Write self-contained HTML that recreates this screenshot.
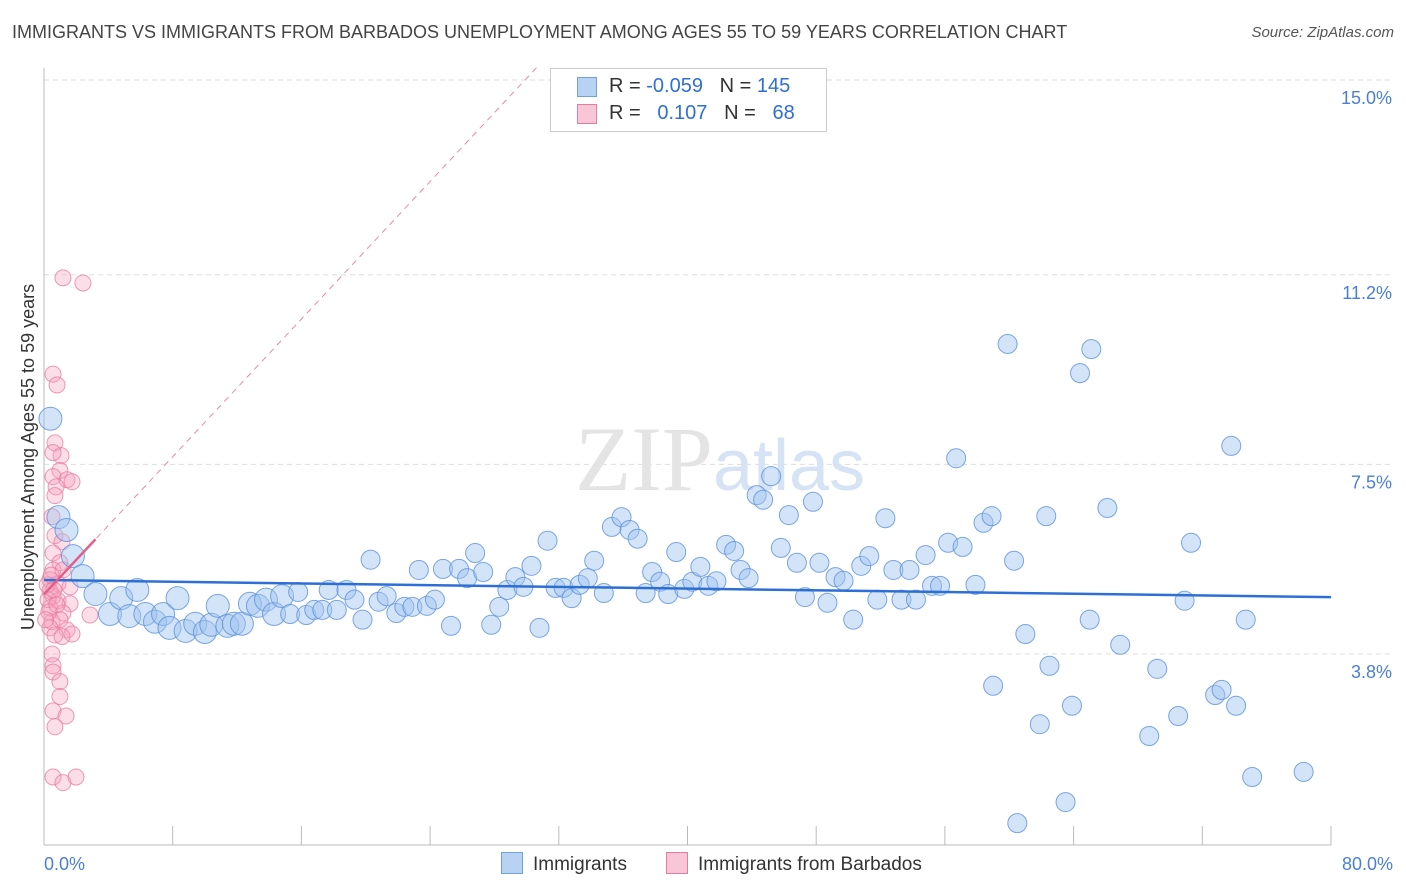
<!DOCTYPE html>
<html><head><meta charset="utf-8">
<style>
body{margin:0;background:#fff;font-family:"Liberation Sans",sans-serif;}
#wrap{position:relative;width:1406px;height:892px;overflow:hidden;}
.t{position:absolute;white-space:nowrap;}
</style></head>
<body>
<div id="wrap">
<div class="t" style="left:12px;top:22px;font-size:18px;color:#444;">IMMIGRANTS VS IMMIGRANTS FROM BARBADOS UNEMPLOYMENT AMONG AGES 55 TO 59 YEARS CORRELATION CHART</div>
<div class="t" style="right:12px;top:24px;font-size:15px;color:#555;font-style:italic;">Source: ZipAtlas.com</div>
<svg id="svg" width="1406" height="892" style="position:absolute;left:0;top:0"></svg>
</div>
<script>
const xTicksPct=[0,80];
const yTicks=[3.8,7.5,11.2,15.0];
const blueX=[0.4,0.9,1.4,1.8,2.4,3.2,4.1,4.8,5.3,5.8,6.3,6.9,7.4,7.8,8.3,8.8,9.4,10.0,10.4,10.8,11.4,11.8,12.3,12.8,13.3,13.8,14.3,14.8,15.3,15.8,16.3,16.8,17.3,17.7,18.2,18.8,19.3,19.8,20.3,20.8,21.3,21.9,22.4,22.9,23.3,23.8,24.3,24.8,25.3,25.8,26.3,26.8,27.3,27.8,28.3,28.8,29.3,29.8,30.3,30.8,31.3,31.8,32.3,32.8,33.3,33.8,34.2,34.8,35.3,35.9,36.4,36.9,37.4,37.8,38.3,38.8,39.3,39.8,40.3,40.8,41.3,41.8,42.4,42.9,43.3,43.8,44.3,44.7,45.2,45.8,46.3,46.8,47.3,47.8,48.2,48.7,49.2,49.7,50.3,50.8,51.3,51.8,52.3,52.8,53.3,53.8,54.2,54.8,55.2,55.7,56.2,56.7,57.1,57.9,58.4,58.9,59.0,59.9,60.3,61.0,61.9,62.3,62.5,63.5,63.9,64.4,65.0,65.1,66.1,66.9,68.7,69.2,70.5,70.9,71.3,72.8,73.2,73.8,74.1,74.7,75.1,78.3,60.5];
const blueY=[8.39,6.47,6.22,5.71,5.32,4.97,4.58,4.89,4.54,5.05,4.58,4.43,4.58,4.31,4.89,4.25,4.39,4.23,4.37,4.74,4.35,4.39,4.39,4.78,4.74,4.86,4.58,4.93,4.58,5.01,4.56,4.66,4.66,5.05,4.66,5.05,4.86,4.47,5.64,4.82,4.93,4.60,4.72,4.72,5.44,4.74,4.86,5.46,4.35,5.46,5.28,5.77,5.40,4.37,4.72,5.05,5.30,5.11,5.52,4.31,6.01,5.09,5.09,4.89,5.15,5.28,5.62,4.99,6.28,6.47,6.22,6.05,4.99,5.40,5.21,4.97,5.79,5.07,5.21,5.50,5.13,5.22,5.93,5.81,5.44,5.28,6.90,6.81,7.27,5.87,6.51,5.58,4.91,6.77,5.58,4.80,5.30,5.23,4.47,5.52,5.71,4.86,6.45,5.44,4.86,5.44,4.86,5.73,5.13,5.13,5.97,7.62,5.89,5.15,6.36,6.49,3.18,9.85,5.62,4.19,2.43,6.49,3.57,0.91,2.79,9.28,4.47,9.75,6.65,3.98,2.20,3.51,2.59,4.84,5.97,3.00,3.10,7.86,2.79,4.47,1.40,1.50,0.50];
const pinkX=[1.18,2.42,0.56,0.81,0.68,1.06,0.56,0.99,0.56,1.43,1.74,0.75,0.68,0.50,0.68,1.12,0.56,0.99,0.56,1.18,0.37,0.87,1.62,0.37,0.56,0.87,1.62,0.37,1.18,2.86,0.50,0.99,0.37,1.43,0.68,1.74,1.12,0.50,0.56,0.56,0.99,0.99,0.56,1.37,0.68,0.56,1.18,1.99,0.2,0.25,0.3,0.6,0.1,0.45,0.8];
const pinkY=[11.14,11.04,9.26,9.05,7.92,7.67,7.73,7.38,7.26,7.20,7.16,7.06,6.89,6.48,6.11,5.99,5.77,5.58,5.44,5.44,5.25,5.17,5.11,5.03,4.93,4.84,4.78,4.70,4.60,4.56,4.43,4.47,4.31,4.27,4.17,4.19,4.14,3.80,3.57,3.45,3.26,2.97,2.69,2.59,2.38,1.40,1.29,1.40,5.15,4.86,4.62,5.05,4.47,5.34,4.76];
const X0=44,X1=1331,YB=848.75,PX=51.25;
const sx=v=>X0+(v/80)*(X1-X0);
const sy=v=>YB-v*PX;
const svg=document.getElementById('svg');
const NS='http://www.w3.org/2000/svg';
function mk(tag,at){const e=document.createElementNS(NS,tag);for(const k in at)e.setAttribute(k,at[k]);svg.appendChild(e);return e;}
// gridlines
yTicks.forEach(v=>{
 const g=mk('line',{x1:X0,x2:1392,y1:sy(v),y2:sy(v),stroke:'#ddd','stroke-dasharray':'5,4'});
 
 
 const t=mk('text',{x:1392,y:sy(v)+24,'text-anchor':'end','font-size':18,fill:'#4a7fd4','font-family':'Liberation Sans, sans-serif'});
 t.textContent=v.toFixed(1)+'%';
 
 
});
// axes
let a=mk('line',{x1:X0,x2:X0,y1:68,y2:845,stroke:'#bbb'});


a=mk('line',{x1:X0,x2:X1,y1:845,y2:845,stroke:'#bbb'});


for(let i=0;i<=10;i++){
 const tk=mk('line',{x1:sx(i*8),x2:sx(i*8),y1:826,y2:845,stroke:'#bbb'});
 
 
}
const xl=mk('text',{x:44,y:870,'font-size':18,fill:'#4a7fd4','font-family':'Liberation Sans, sans-serif'});
xl.textContent=xTicksPct[0].toFixed(1)+'%';


const xr=mk('text',{x:1393,y:870,'text-anchor':'end','font-size':18,fill:'#4a7fd4','font-family':'Liberation Sans, sans-serif'});
xr.textContent=xTicksPct[1].toFixed(1)+'%';


const yt=mk('text',{x:0,y:0,transform:'translate(34,457) rotate(-90)','text-anchor':'middle','font-size':18,fill:'#333','font-family':'Liberation Sans, sans-serif'});
yt.textContent='Unemployment Among Ages 55 to 59 years';


// watermark
const wm=mk('text',{x:720,y:490,'text-anchor':'middle','font-size':92,fill:'#e4e4e4','font-family':'Liberation Serif, serif'});
wm.innerHTML='ZIP<tspan font-family="Liberation Sans, sans-serif" font-size="72" fill="#d6e3f5">atlas</tspan>';


// points
pinkX.forEach((x,i)=>{
 const c=mk('circle',{cx:sx(x),cy:sy(pinkY[i]),r:8,fill:'rgba(246,160,188,0.35)',stroke:'rgba(232,120,158,0.75)','stroke-width':1});
 
 
});
blueX.forEach((x,i)=>{
 const c=mk('circle',{cx:sx(x),cy:sy(blueY[i]),r:x<15?11.5:9.5,fill:'rgba(160,196,240,0.45)',stroke:'rgba(90,145,220,0.8)','stroke-width':1});
 
 
});
function reg(X,Y){const n=X.length;let mx=0,my=0;X.forEach((x,i)=>{mx+=x;my+=Y[i];});mx/=n;my/=n;let sxy=0,sxx=0;X.forEach((x,i)=>{sxy+=(x-mx)*(Y[i]-my);sxx+=(x-mx)*(x-mx);});const b=sxy/sxx;return [my-b*mx,b];}
const [ba,bb]=reg(blueX,blueY);
let l=mk('line',{x1:sx(0),y1:sy(ba),x2:sx(80),y2:sy(ba+bb*80),stroke:'#2e6fd6','stroke-width':2.5});


const [pa,pb]=reg(pinkX,pinkY);
const xe=Math.min(80,(15.3-pa)/pb>0?(15.3-pa)/pb:80);
l=mk('line',{x1:sx(0),y1:sy(pa),x2:sx(xe),y2:sy(pa+pb*xe),stroke:'#e88aa8','stroke-width':1,'stroke-dasharray':'6,5'});


l=mk('line',{x1:sx(0),y1:sy(pa),x2:sx(3.2),y2:sy(pa+pb*3.2),stroke:'#e0608a','stroke-width':2.5});


</script>
<div class="t" style="left:550px;top:68px;width:275px;height:62px;border:1px solid #ccc;background:#fff;font-size:20px;">
 <div style="position:absolute;left:26px;top:8px;width:18px;height:18px;background:#b8d2f4;border:1px solid #6fa1e0;"></div>
 <div class="t" style="left:58px;top:6px;color:#333;">R = <span style="color:#2e6fd6">-0.059</span>&nbsp;&nbsp;&nbsp;N = <span style="color:#2e6fd6">145</span></div>
 <div style="position:absolute;left:26px;top:35px;width:18px;height:18px;background:#f8c6d6;border:1px solid #e87ca0;"></div>
 <div class="t" style="left:58px;top:33px;color:#333;">R = &nbsp;&nbsp;<span style="color:#2e6fd6">0.107</span>&nbsp;&nbsp;&nbsp;N = &nbsp;&nbsp;<span style="color:#2e6fd6">68</span></div>
</div>
<div class="t" style="left:501px;top:852px;font-size:19px;color:#333;"><span style="display:inline-block;width:20px;height:20px;background:#b8d2f4;border:1px solid #6fa1e0;vertical-align:-4px;margin-right:10px;"></span>Immigrants</div>
<div class="t" style="left:666px;top:852px;font-size:19px;color:#333;"><span style="display:inline-block;width:20px;height:20px;background:#f8c6d6;border:1px solid #e87ca0;vertical-align:-4px;margin-right:10px;"></span>Immigrants from Barbados</div>
</body></html>
